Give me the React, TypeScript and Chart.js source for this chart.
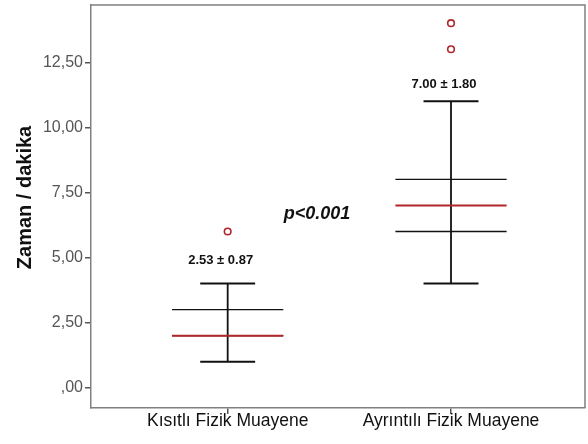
import React, { useEffect, useRef } from "react";
import { Chart, registerables } from "chart.js";

Chart.register(...registerables);

const categories = ["Kısıtlı Fizik Muayene", "Ayrıntılı Fizik Muayene"];
const whiskerLow = [1, 4];
const q1 = [2, 6];
const median = [2, 7];
const q3 = [3, 8];
const whiskerHigh = [4, 11];
const outliers = [[6], [13, 14]];
const meanSdLabels = ["2.53 ± 0.87", "7.00 ± 1.80"];
const pValueText = "p<0.001";
const yTitle = "Zaman / dakika";
const yTicks = [0, 2.5, 5, 7.5, 10, 12.5];

const FONT = 'Arial, "Liberation Sans", sans-serif';
const BLACK = "#111111";
const RED = "#b0262a";

function seg(x1: number, y1: number, x2: number, y2: number) {
  return [
    { x: x1, y: y1 },
    { x: x2, y: y2 },
  ];
}

function buildDatasets() {
  const ds: any[] = [];
  const boxHalf = 0.249;
  const capHalf = 0.123;
  categories.forEach((_, i) => {
    const p = i + 1;
    const line = (data: any[], color: string, w: number) => ({
      type: "scatter",
      data,
      showLine: true,
      borderColor: color,
      borderWidth: w,
      pointRadius: 0,
      pointHoverRadius: 0,
      fill: false,
    });
    ds.push(line(seg(p, whiskerLow[i], p, whiskerHigh[i]), BLACK, 1.8));
    ds.push(line(seg(p - capHalf, whiskerLow[i], p + capHalf, whiskerLow[i]), BLACK, 2));
    ds.push(line(seg(p - capHalf, whiskerHigh[i], p + capHalf, whiskerHigh[i]), BLACK, 2));
    ds.push(line(seg(p - boxHalf, q1[i], p + boxHalf, q1[i]), BLACK, 1.3));
    ds.push(line(seg(p - boxHalf, q3[i], p + boxHalf, q3[i]), BLACK, 1.3));
    ds.push(line(seg(p - boxHalf, median[i], p + boxHalf, median[i]), RED, 2));
    ds.push({
      type: "scatter",
      data: outliers[i].map((v) => ({ x: p, y: v })),
      showLine: false,
      pointStyle: "circle",
      pointRadius: 3.3,
      pointBorderWidth: 1.6,
      pointBorderColor: RED,
      pointBackgroundColor: "rgba(0,0,0,0)",
    });
  });
  // Chart.js paints lower indices on top, so reverse to keep medians above quartile lines
  return ds.reverse();
}

const annotationPlugin = {
  id: "annots",
  afterDatasetsDraw(chart: any) {
    const { ctx, chartArea, scales } = chart;
    const xs = scales.x;
    const ys = scales.y;
    ctx.save();
    ctx.strokeStyle = "#808080";
    ctx.lineWidth = 1.5;
    ctx.beginPath();
    ctx.moveTo(chartArea.left, chartArea.top);
    ctx.lineTo(chartArea.right, chartArea.top);
    ctx.lineTo(chartArea.right, chartArea.bottom);
    ctx.stroke();

    ctx.fillStyle = "#111";
    ctx.textAlign = "center";
    ctx.textBaseline = "middle";
    ctx.font = `bold 13px ${FONT}`;
    const offsets = [23, 17];
    meanSdLabels.forEach((t, i) => {
      const x = xs.getPixelForValue(i + 1) - 7;
      const y = ys.getPixelForValue(whiskerHigh[i]) - offsets[i];
      ctx.fillText(t, x, y);
    });
    ctx.font = `italic bold 18px ${FONT}`;
    ctx.fillText(pValueText, xs.getPixelForValue(1.4), ys.getPixelForValue(6.67));

    // y-axis title
    ctx.save();
    ctx.translate(25, (chartArea.top + chartArea.bottom) / 2 - 9);
    ctx.rotate(-Math.PI / 2);
    ctx.font = `bold 20px ${FONT}`;
    ctx.fillText(yTitle, 0, 0);
    ctx.restore();
    ctx.restore();
  },
};

export default function App() {
  const ref = useRef<HTMLCanvasElement>(null);
  useEffect(() => {
    if (!ref.current) return;
    const chart = new Chart(ref.current, {
      type: "scatter",
      data: { datasets: buildDatasets() },
      options: {
        animation: false,
        responsive: false,
        maintainAspectRatio: false,
        layout: { autoPadding: false, padding: { top: 5, right: 3, left: 14, bottom: 0 } },
        plugins: {
          legend: { display: false },
          tooltip: { enabled: false },
        },
        scales: {
          x: {
            type: "linear",
            min: 0.388,
            max: 2.6,
            afterFit: (s: any) => {
              s.height = 36;
              s.paddingLeft = 0;
              s.paddingRight = 0;
            },
            afterBuildTicks: (s: any) => {
              s.ticks = categories.map((_, i) => ({ value: i + 1 }));
            },
            ticks: {
              autoSkip: false,
              maxRotation: 0,
              padding: -3,
              color: "#111",
              font: { family: FONT, size: 17.5 },
              callback: (v: any) => categories[Math.round(Number(v)) - 1] ?? "",
            },
            grid: { drawOnChartArea: false, drawTicks: true, tickLength: 6, color: "#555", lineWidth: 1.5 },
            border: { display: true, color: "#808080", width: 1.5 },
          },
          y: {
            type: "linear",
            min: -0.78,
            max: 14.7,
            afterFit: (s: any) => {
              s.width = 77;
              s.paddingTop = 0;
              s.paddingBottom = 0;
            },
            afterBuildTicks: (s: any) => {
              s.ticks = yTicks.map((v) => ({ value: v }));
            },
            ticks: {
              padding: 2,
              color: "#555",
              font: { family: FONT, size: 16 },
              callback: (v: any) => {
                const n = Number(v);
                if (n === 0) return ",00";
                return n.toFixed(2).replace(".", ",");
              },
            },
            grid: { drawOnChartArea: false, drawTicks: true, tickLength: 6, color: "#555", lineWidth: 1.5 },
            border: { display: true, color: "#808080", width: 1.5 },
          },
        },
      } as any,
      plugins: [annotationPlugin],
    });
    return () => chart.destroy();
  }, []);
  return (
    <div style={{ position: "absolute", left: 0, top: 0, width: 588, height: 444, background: "#fff" }}>
      <canvas ref={ref} width={588} height={444} style={{ width: 588, height: 444 }} />
    </div>
  );
}
